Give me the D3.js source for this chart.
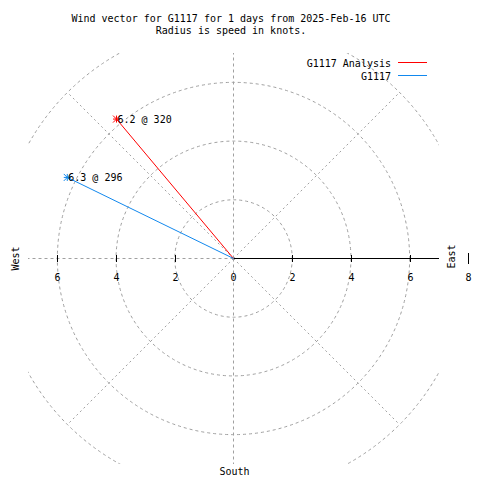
<!DOCTYPE html>
<html><head><meta charset="utf-8">
<script src="https://cdn.jsdelivr.net/npm/d3@7"></script>
<style>body{margin:0;background:#fff}text{font-family:"DejaVu Sans Mono",monospace;font-size:10px;fill:#000}</style>
</head><body><svg id="c" width="480" height="480"></svg>
<script>
const titleLines = ["Wind vector for G1117 for 1 days from 2025-Feb-16 UTC", "Radius is speed in knots."];
const seriesNames = ["G1117 Analysis", "G1117"];
const seriesColors = ["#ff0000", "#1188ee"];
const speeds = [6.2, 6.3];
const directions = [320, 296];
const ringValues = [2, 4, 6, 8];
const tickValues = [0, 2, 4, 6, 8];
const spokeAngles = [0, 45, 90, 135, 180, 225, 270, 315];

const svg = d3.select("#c");
const cx = 233.5, cy = 258.5;
const r = d3.scaleLinear().domain([0, 7]).range([0, 205.5]);
const half = r(7);

svg.append("defs").append("clipPath").attr("id", "clip")
  .append("rect").attr("x", cx - half).attr("y", cy - half).attr("width", 2 * half).attr("height", 2 * half);

const grid = svg.append("g").attr("clip-path", "url(#clip)");
const gray = "#a0a0a0";
grid.selectAll("circle.ring").data(ringValues).join("circle")
  .attr("cx", cx).attr("cy", cy).attr("r", d => r(d))
  .attr("fill", "none").attr("stroke", gray).attr("stroke-width", 1).attr("stroke-dasharray", "3,3");
grid.selectAll("line.spoke").data(spokeAngles).join("line")
  .attr("x1", cx).attr("y1", cy)
  .attr("x2", d => cx + r(8) * Math.sin(d * Math.PI / 180))
  .attr("y2", d => cy - r(8) * Math.cos(d * Math.PI / 180))
  .attr("stroke", gray).attr("stroke-width", 1).attr("stroke-dasharray", d => d % 90 === 0 ? "3,3" : "2,3");

// east axis (solid)
svg.append("line").attr("x1", cx).attr("y1", cy).attr("x2", cx + half).attr("y2", cy)
  .attr("stroke", "#000").attr("stroke-width", 1).attr("shape-rendering", "crispEdges");
// ticks both sides
const tks = tickValues.filter(d => d > 0);
tks.forEach(v => {
  [1, -1].forEach(s => {
    const x = Math.round(cx + s * r(v)) + 0.5;
    if (x < 0 || x > 480) return;
    const h = v === 8 ? 6 : 4;
    svg.append("line").attr("x1", x).attr("x2", x).attr("y1", cy - h).attr("y2", cy + h - 1)
      .attr("stroke", "#000").attr("stroke-width", 1).attr("shape-rendering", "crispEdges");
    svg.append("text").attr("x", x).attr("y", cy + 22).attr("text-anchor", "middle").text(v);
  });
});
svg.append("text").attr("x", cx).attr("y", cy + 22).attr("text-anchor", "middle").text("0");

// direction labels
svg.append("text").attr("transform", `translate(${cx + 221},${cy - 2}) rotate(-90)`).attr("text-anchor", "middle").text("East");
svg.append("text").attr("transform", `translate(${19},${cy}) rotate(-90)`).attr("text-anchor", "middle").text("West");
svg.append("text").attr("x", cx + 1).attr("y", 475).attr("text-anchor", "middle").text("South");

// title
titleLines.forEach((t, i) => svg.append("text").attr("x", 231).attr("y", 22 + i * 12).attr("text-anchor", "middle").text(t));

// legend
seriesNames.forEach((n, i) => {
  const y = 62.5 + i * 13;
  svg.append("text").attr("x", 391).attr("y", y + 4).attr("text-anchor", "end").text(n);
  svg.append("line").attr("x1", 398).attr("x2", 427).attr("y1", y).attr("y2", y)
    .attr("stroke", seriesColors[i]).attr("stroke-width", 1).attr("shape-rendering", "crispEdges");
});

// vectors
speeds.forEach((s, i) => {
  const a = directions[i] * Math.PI / 180;
  const px = cx + r(s) * Math.sin(a), py = cy - r(s) * Math.cos(a);
  const c = seriesColors[i];
  svg.append("line").attr("x1", cx).attr("y1", cy).attr("x2", px).attr("y2", py).attr("stroke", c).attr("stroke-width", 1);
  const m = 3.5;
  const star = svg.append("g").attr("stroke", c).attr("stroke-width", 1);
  star.append("line").attr("x1", px - m).attr("x2", px + m).attr("y1", py).attr("y2", py);
  star.append("line").attr("x1", px).attr("x2", px).attr("y1", py - m).attr("y2", py + m);
  star.append("line").attr("x1", px - m).attr("x2", px + m).attr("y1", py - m).attr("y2", py + m);
  star.append("line").attr("x1", px - m).attr("x2", px + m).attr("y1", py + m).attr("y2", py - m);
  svg.append("text").attr("x", px + 1).attr("y", py + 4).text(`${s} @ ${directions[i]}`);
});
</script></body></html>
